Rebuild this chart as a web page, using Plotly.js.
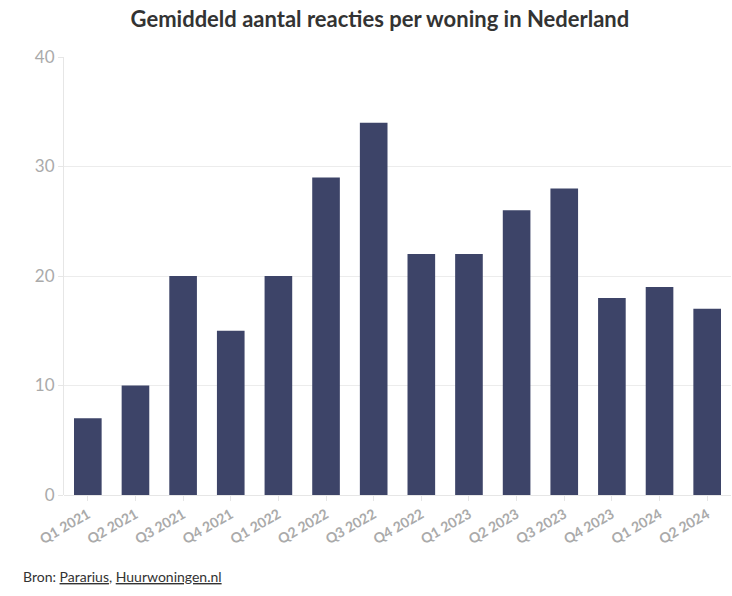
<!DOCTYPE html>
<html><head><meta charset="utf-8">
<script src="https://cdn.plot.ly/plotly-3.0.1.min.js"></script>
<style>html,body{margin:0;padding:0;background:#fff}#c{width:732px;height:596px}</style>
</head><body><div id="c"></div>
<script>
const categories = ["Q1 2021","Q2 2021","Q3 2021","Q4 2021","Q1 2022","Q2 2022","Q3 2022","Q4 2022","Q1 2023","Q2 2023","Q3 2023","Q4 2023","Q1 2024","Q2 2024"];
const values = [7,10,20,15,20,29,34,22,22,26,28,18,19,17];
const yTicks = [0,10,20,30,40];

const font = "Lato, 'Open Sans', sans-serif";
Plotly.newPlot('c', [{
  type: 'bar', x: categories, y: values,
  marker: {color: '#3d4468'},
  hovertemplate: '%{x}: %{y}<extra></extra>'
}], {
  width: 732, height: 596,
  margin: {l: 64, r: 1, t: 57, b: 101},
  paper_bgcolor: '#fff', plot_bgcolor: '#fff',
  bargap: 0.42,
  title: {text: '<b>Gemiddeld aantal reacties per woning in Nederland</b>', x: 0.519, xanchor: 'center', y: 0.98, yanchor: 'top',
          font: {family: font, size: 22, color: '#333'}},
  xaxis: {type: 'category', tickangle: -30, tickvals: categories, ticktext: categories.map(c => '<b>' + c + '</b>'),
          tickfont: {family: font, size: 14, color: '#aaa', weight: 700},
          ticks: 'outside', ticklen: 5, tickcolor: '#e6e6e6', showline: false, showgrid: false, zeroline: false, fixedrange: true},
  yaxis: {range: [0, 40], tickvals: yTicks, tickfont: {family: font, size: 17, color: '#aaa'},
          ticks: 'outside', ticklen: 5, tickcolor: '#e6e6e6', showgrid: true, gridcolor: '#ececec',
          showline: true, linecolor: '#e6e6e6', zeroline: true, zerolinecolor: '#e6e6e6', fixedrange: true},
  annotations: [{text: 'Bron: <u>Pararius</u>, <u>Huurwoningen.nl</u>', xref: 'paper', yref: 'paper',
                 x: -0.064, xanchor: 'left', y: -0.186, yanchor: 'middle', showarrow: false,
                 font: {family: font, size: 14, color: '#333'}}]
}, {displayModeBar: false});
</script></body></html>
